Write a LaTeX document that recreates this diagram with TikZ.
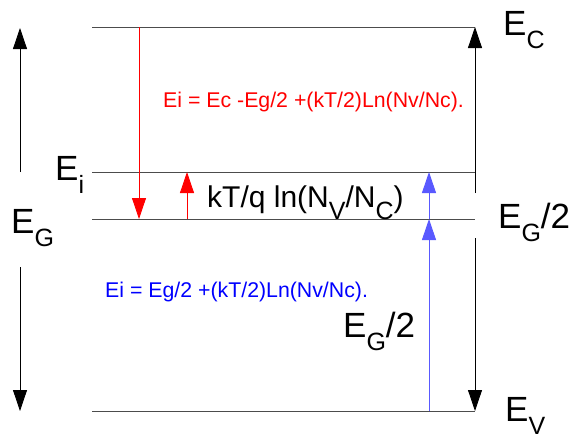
\documentclass[tikz,border=0pt]{standalone}
\usepackage{fontspec}
\setmainfont{Liberation Sans}
\usetikzlibrary{arrows.meta}

\newcommand{\lowsub}[2]{#1\raisebox{-0.38em}{\fontsize{25}{25}\selectfont #2}}

\tikzset{
  level/.style={draw=black!70,line width=0.9pt},
  gap/.style={draw=black,line width=0.8pt,-{Triangle[length=21pt,width=14pt]}},
  big/.style={font=\fontsize{35}{35}\selectfont,inner sep=0pt},
  mid/.style={font=\fontsize{30}{30}\selectfont,inner sep=0pt},
  small/.style={font=\fontsize{21.3}{21.3}\selectfont,inner sep=0pt}
}

\begin{document}
\begin{tikzpicture}[x=1pt,y=-1pt]
\useasboundingbox (0,0) rectangle (573,437);
% energy levels
\coordinate (ecL) at (92,27);   \coordinate (ecR) at (475,27);
\coordinate (eiL) at (92,172);  \coordinate (eiR) at (475,172);
\coordinate (emL) at (92,219);  \coordinate (emR) at (475,219);
\coordinate (evL) at (92,411);  \coordinate (evR) at (475,411);
\draw[level] (ecL) -- (ecR);
\draw[level] (eiL) -- (eiR);
\draw[level] (emL) -- (emR);
\draw[level] (evL) -- (evR);
% band gap arrows
\coordinate (gt) at (20,28);  \coordinate (gu) at (20,172);
\coordinate (gd) at (20,267); \coordinate (gb) at (20,411);
\draw[gap] (gu) -- (gt);
\draw[gap] (gd) -- (gb);
\coordinate (ht) at (475,193); \coordinate (hb) at (475,238);
\draw[gap] (ht) -- (ecR);
\draw[gap] (hb) -- (evR);
% red: Ec - Eg/2
\coordinate (ra) at (139,27);  \coordinate (rb) at (139,219);
\coordinate (rc) at (187,219); \coordinate (rd) at (187,172);
\draw[gap,draw=red,fill=red] (ra) -- (rb);
\draw[gap,draw=red,fill=red] (rc) -- (rd);
% blue: Eg/2 from Ev
\coordinate (ba) at (429,411); \coordinate (bb) at (429,219);
\coordinate (bc) at (429,172);
\draw[gap,draw=blue!65,fill=blue,line width=1pt] (ba) -- (bb);
\draw[gap,draw=blue!65,fill=blue,line width=1pt] (bb) -- (bc);
% labels
\node[big,anchor=base west] (lEc) at (503,35) {\lowsub{E}{C}};
\node[big,anchor=base west] (lEv) at (505,421) {\lowsub{E}{V}};
\node[big,anchor=base west] (lEh) at (498,228) {\lowsub{E}{G}/2};
\node[big,anchor=base west] (lEi) at (55,180) {\lowsub{E}{i}};
\node[big,anchor=base west] (lEg) at (11,233) {\lowsub{E}{G}};
\node[big,anchor=base west] (lEb) at (343,337) {\lowsub{E}{G}/2};
\node[mid,anchor=base west] (lkT) at (207,207) {kT/q ln(N\raisebox{-0.4em}{\fontsize{25}{25}\selectfont V}/N\raisebox{-0.4em}{\fontsize{25}{25}\selectfont C})};
\node[small,text=red,anchor=base west] (lred) at (163,107) {Ei = Ec -Eg/2 +(kT/2)Ln(Nv/Nc).};
\node[small,text=blue,anchor=base west] (lblue) at (105,297) {Ei = Eg/2 +(kT/2)Ln(Nv/Nc).};
\end{tikzpicture}
\end{document}
